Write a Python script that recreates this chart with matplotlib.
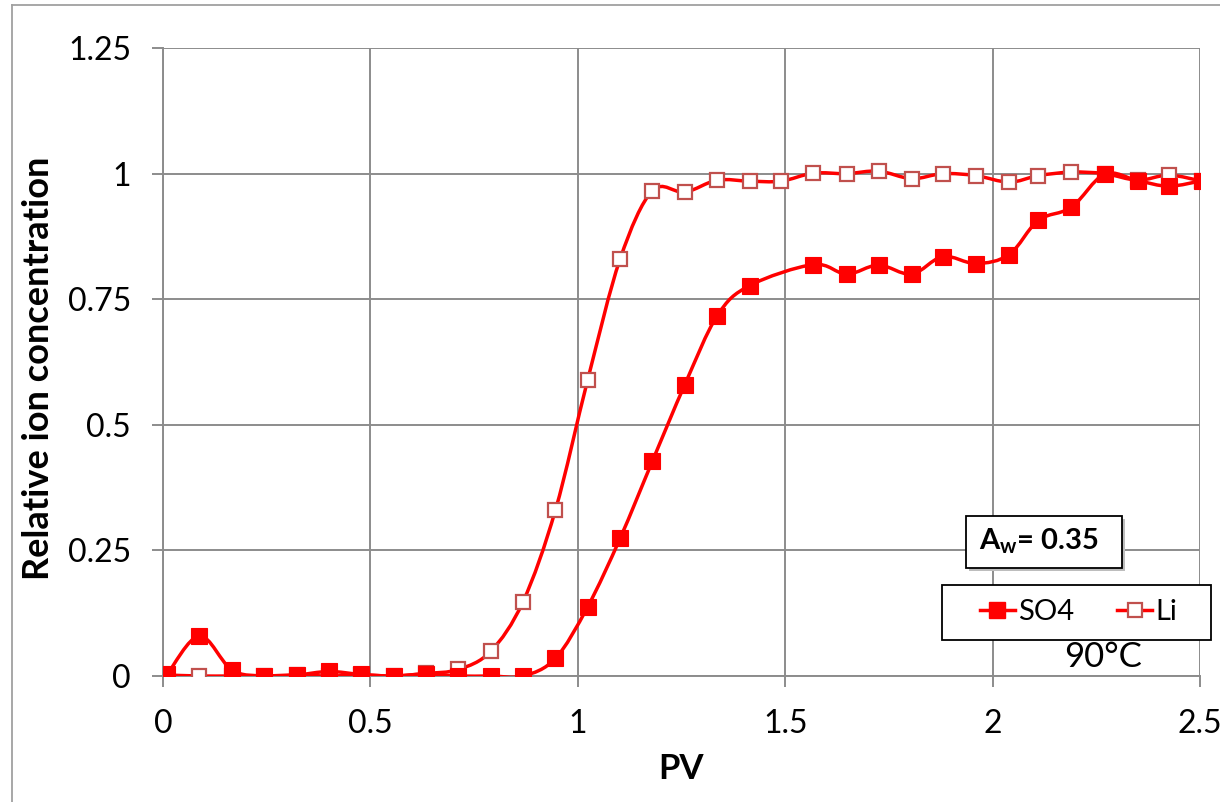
import matplotlib
matplotlib.use("Agg")
import matplotlib.pyplot as plt
from matplotlib.path import Path
from matplotlib.patches import PathPatch, Rectangle
from matplotlib.lines import Line2D

plt.rcParams["font.family"] = ["Lato", "DejaVu Sans"]
plt.rcParams["mathtext.fontset"] = "custom"
plt.rcParams["mathtext.rm"] = "Lato"
plt.rcParams["mathtext.bf"] = "Lato:bold"

# PV values of the samples
pv_so4 = [0.01, 0.088, 0.166, 0.244, 0.322, 0.40, 0.478, 0.556, 0.634, 0.712,
          0.79, 0.868, 0.946, 1.024, 1.102, 1.18, 1.258, 1.336, 1.414,
          1.568, 1.648, 1.725, 1.805, 1.88, 1.96, 2.04, 2.11, 2.19, 2.27,
          2.35, 2.425, 2.505]
so4 = [0.003, 0.08, 0.012, 0.0, 0.002, 0.009, 0.003, 0.0, 0.004, 0.0,
       0.0, 0.0, 0.035, 0.138, 0.274, 0.428, 0.58, 0.717, 0.777,
       0.819, 0.80, 0.818, 0.80, 0.835, 0.821, 0.839, 0.907, 0.933, 0.999,
       0.986, 0.975, 0.986]

pv_li = [0.01, 0.088, 0.166, 0.244, 0.322, 0.40, 0.478, 0.556, 0.634, 0.712,
         0.79, 0.868, 0.946, 1.024, 1.102, 1.18, 1.258, 1.336, 1.414, 1.49,
         1.568, 1.648, 1.725, 1.805, 1.88, 1.96, 2.04, 2.11, 2.19, 2.27,
         2.35, 2.425, 2.505]
li = [0.002, 0.0, 0.0, 0.0, 0.002, 0.0, 0.002, 0.0, 0.005, 0.013,
      0.049, 0.148, 0.33, 0.59, 0.83, 0.966, 0.963, 0.987, 0.985, 0.985,
      1.001, 1.0, 1.005, 0.99, 1.0, 0.996, 0.983, 0.996, 1.003, 1.0,
      0.987, 0.997, 0.985]

RED = "#FF0000"
LI_EDGE = "#C0504D"
GRID = "#8C8C8C"


def smooth_path(x, y):
    # Excel-like smoothed line: cubic Bezier segments through the points
    n = len(x)
    verts = [(x[0], y[0])]
    codes = [Path.MOVETO]
    for i in range(n - 1):
        a = i - 1 if i > 0 else i
        d = i + 2 if i + 2 < n else i + 1
        c1 = (x[i] + (x[i + 1] - x[a]) / 6, y[i] + (y[i + 1] - y[a]) / 6)
        c2 = (x[i + 1] - (x[d] - x[i]) / 6, y[i + 1] - (y[d] - y[i]) / 6)
        verts += [c1, c2, (x[i + 1], y[i + 1])]
        codes += [Path.CURVE4] * 3
    return Path(verts, codes)


fig = plt.figure(figsize=(12.2, 8.02), dpi=100)
ax = fig.add_axes([0.1336, 0.1571, 0.85, 0.783])

ax.add_patch(PathPatch(smooth_path(pv_li, li), fill=False, edgecolor=RED,
                       lw=2.5, zorder=3))
ax.add_patch(PathPatch(smooth_path(pv_so4, so4), fill=False, edgecolor=RED,
                       lw=2.5, zorder=3))
ax.plot(pv_li, li, ls="none", marker="s", ms=9.5, mfc="white",
        mec=LI_EDGE, mew=1.6, zorder=4)
ax.plot(pv_so4, so4, ls="none", marker="s", ms=11.5, mfc=RED,
        mec=RED, mew=0.8, zorder=5)

ax.set_xlim(0, 2.5)
ax.set_ylim(0, 1.25)
ax.set_xticks([0, 0.5, 1, 1.5, 2, 2.5])
ax.set_xticklabels(["0", "0.5", "1", "1.5", "2", "2.5"])
ax.set_yticks([0, 0.25, 0.5, 0.75, 1, 1.25])
ax.set_yticklabels(["0", "0.25", "0.5", "0.75", "1", "1.25"])
ax.grid(True, color=GRID, lw=1.4)
ax.set_axisbelow(True)
for s in ["top", "right"]:
    ax.spines[s].set_visible(False)
for s in ["left", "bottom"]:
    ax.spines[s].set_color(GRID)
    ax.spines[s].set_linewidth(1.4)
ax.tick_params(length=8, width=1.4, color=GRID, labelsize=23)
ax.tick_params(axis="y", pad=15)
ax.tick_params(axis="x", pad=16)

ax.set_xlabel("PV", fontsize=25, fontweight="bold")
ax.xaxis.set_label_coords(0.4995, -0.122)
ax.set_ylabel("Relative ion concentration", fontsize=26, fontweight="bold")
ax.yaxis.set_label_coords(-0.104, 0.49)

# A_w box with shadow
fig.patches.append(Rectangle((0.7943, 0.2884), 0.1279, 0.0648, transform=fig.transFigure,
                             facecolor="#BDBDBD", edgecolor="none", zorder=6))
fig.patches.append(Rectangle((0.7918, 0.2918), 0.1279, 0.0648, transform=fig.transFigure,
                             facecolor="white", edgecolor="black", lw=1.3, zorder=7))
fig.text(0.8025, 0.3250, r"A$_{\mathbf{w}}$= 0.35", fontsize=21, fontweight="bold",
         ha="left", va="center", zorder=8)

# legend box
fig.patches.append(Rectangle((0.7721, 0.2020), 0.2205, 0.0686, transform=fig.transFigure,
                             facecolor="white", edgecolor="black", lw=1.3, zorder=6))
handles = [
    Line2D([], [], color=RED, lw=2.5, marker="s", ms=11, mfc=RED, mec=RED),
    Line2D([], [], color=RED, lw=2.5, marker="s", ms=9.5, mfc="white", mec=LI_EDGE, mew=1.6),
]
leg = fig.legend(handles, ["SO4", "Li"], loc="center", bbox_to_anchor=(0.884, 0.2363),
                 ncol=2, frameon=False, fontsize=21, handlelength=1.2,
                 handletextpad=0.1, columnspacing=1.5)
leg.set_zorder(8)

fig.text(0.904, 0.181, "90°C", fontsize=25, ha="center", va="center")

# outer chart border (top and left edges visible)
fig.add_artist(Line2D([12 / 1220, 1.0], [1 - 5 / 802, 1 - 5 / 802],
                      transform=fig.transFigure, color="#A0A0A0", lw=1.3))
fig.add_artist(Line2D([12 / 1220, 12 / 1220], [0.0, 1 - 5 / 802],
                      transform=fig.transFigure, color="#A0A0A0", lw=1.3))

fig.savefig("out.png", dpi=100)
